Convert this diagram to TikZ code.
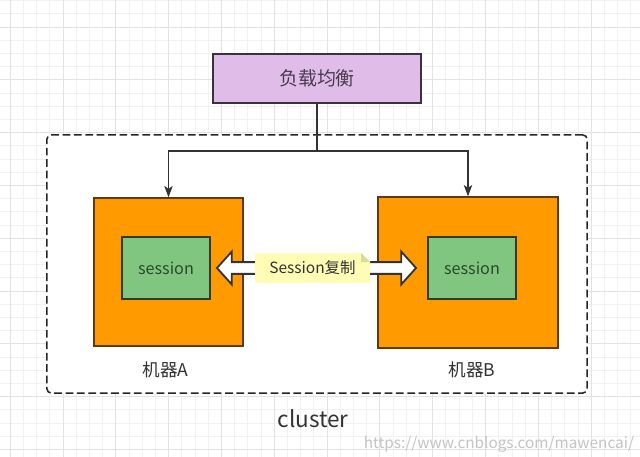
\documentclass[tikz,border=0pt]{standalone}
\usepackage{fontspec}
\setmainfont{Noto Sans CJK SC}
\usepackage{xcolor}
\usepackage{tikz}
\usetikzlibrary{positioning}
\usetikzlibrary{calc}
\usetikzlibrary{arrows, shapes, arrows.meta}
\definecolor{lbfill}{HTML}{E0BDE8}
\definecolor{lbline}{HTML}{3B3240}
\definecolor{lbtext}{HTML}{4A3A52}
\definecolor{boxfill}{HTML}{FF9A00}
\definecolor{boxline}{HTML}{5C3A0A}
\definecolor{sessfill}{HTML}{80C680}
\definecolor{sessline}{HTML}{2E3B2E}
\definecolor{sesstext}{HTML}{2B4A2B}
\definecolor{notefill}{HTML}{FFFCB5}
\definecolor{notefold}{HTML}{D9DB9A}
\definecolor{linecol}{HTML}{333333}
\definecolor{textdark}{HTML}{333333}
\definecolor{wmgray}{HTML}{C4C4C4}
\tikzstyle{gridminor} = [draw=black!5, line width=0.6pt]
\tikzstyle{gridmajor} = [draw=black!11, line width=0.6pt]
\tikzstyle{cluster} = [rectangle, draw=black!85, fill=white, line width=1.1pt, dash pattern=on 5.5pt off 2.6pt, rounded corners=3pt, minimum width=13.5cm, minimum height=6.45cm]
\tikzstyle{lb} = [rectangle, draw=lbline, fill=lbfill, line width=1pt, minimum width=5.2cm, minimum height=1.225cm, text=lbtext, font=\fontsize{13.5}{16}\selectfont]
\tikzstyle{machine} = [rectangle, draw=boxline, fill=boxfill, line width=1pt]
\tikzstyle{sess} = [rectangle, draw=sessline, fill=sessfill, line width=1pt, minimum width=2.2cm, minimum height=1.55cm, text=sesstext, font=\fontsize{11.5}{14}\selectfont]
\tikzstyle{mlabel} = [text=textdark, font=\fontsize{12.5}{15}\selectfont]
\tikzstyle{arrow} = [line width=1pt, draw=linecol, -{Stealth[length=8pt,width=6pt,inset=2pt]}]
\tikzstyle{copyarrow} = [double arrow, draw=linecol, fill=white, line width=1.3pt, inner xsep=0pt, inner ysep=3.55pt, double arrow head extend=7.45pt, double arrow tip angle=96, minimum height=4.975cm]
\tikzstyle{note} = [rectangle, fill=notefill, inner sep=0pt, minimum width=2.875cm, minimum height=0.75cm, text=textdark, font=\fontsize{11}{13}\selectfont,
  path picture={
    \fill[white] ($(path picture bounding box.north east)+(-6.4pt,0pt)$) -- (path picture bounding box.north east) -- ($(path picture bounding box.north east)+(0pt,-6.4pt)$) -- cycle;
    \fill[notefold] ($(path picture bounding box.north east)+(-6.4pt,0pt)$) -- ($(path picture bounding box.north east)+(-6.4pt,-6.4pt)$) -- ($(path picture bounding box.north east)+(0pt,-6.4pt)$) -- cycle;
  }]

\begin{document}
\begin{tikzpicture}[x=0.025cm, y=-0.025cm]
    \useasboundingbox (0,0) rectangle (640,456);
    \fill[white] (0,0) rectangle (640,456);
    \begin{scope}[shift={(10.2,27)}]
        \draw[gridminor, step=0.33cm] (-20,-40) grid (640,440);
        \draw[gridmajor, step=1.32cm] (-20,-40) grid (640,440);
    \end{scope}
    \node[cluster] (cl) at (317,264) {};
    \node[lb] (lb) at (317,78.5) {负载均衡};
    \node[machine, minimum width=3.725cm, minimum height=3.7cm] (mA) at (168.5,272) {};
    \node[machine, minimum width=4.5cm, minimum height=3.775cm] (mB) at (468,272.5) {};
    \node[sess] (sA) at (166,268) {session};
    \node[sess] (sB) at (472,268) {session};
    \node[mlabel] (lA) at (165.5,370) {机器A};
    \node[mlabel] (lB) at (472,370) {机器B};
    \coordinate (split) at (317,151);
    \draw[line width=1pt, draw=linecol] (lb.south) -- (split);
    \draw[arrow] (split) -| (mA.north);
    \draw[arrow] (split) -| (mB.north);
    \node[copyarrow] (cp) at (316.5,268) {};
    \node[note] (nt) at (312.5,268) {Session复制};
    \node[text=textdark, font=\fontsize{16}{19}\selectfont] (ct) at (313,419) {cluster};
    \node[text=wmgray, font=\fontsize{10.9}{13}\selectfont, anchor=east] (wm) at (639,444) {https://www.cnblogs.com/mawencai/};
\end{tikzpicture}
\end{document}
